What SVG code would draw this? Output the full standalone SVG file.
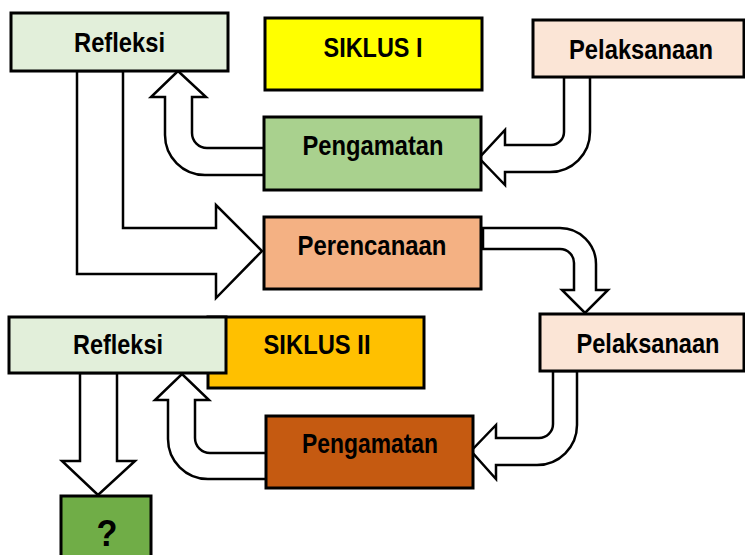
<svg xmlns="http://www.w3.org/2000/svg" width="745" height="555" viewBox="0 0 745 555">
<style>
.box{stroke:#000;stroke-width:3}
.arr{fill:#fff;stroke:#000;stroke-width:2.5;stroke-linejoin:miter}
text{font-family:"Liberation Sans",Arial,sans-serif;font-weight:bold;font-size:28px;fill:#000;text-anchor:middle}
</style>
<rect width="745" height="555" fill="#fff"/>
<g id="connectors">
<path class="arr" d="M264,175 L205,175 A40,40 0 0 1 165,135 L165,97 L151,97 L178,71 L206,97 L192,97 L192,133 A15,15 0 0 0 207,148 L264,148 Z"/>
<path class="arr" d="M564,77 L564,132 A13,13 0 0 1 551,145 L505,145 L505,130 L479,158 L505,185 L505,172 L550,172 A40,40 0 0 0 590,132 L590,77 Z"/>
<path class="arr" d="M77,71 L77,274 L216,274 L216,298 L262,251 L216,205 L216,228 L123,228 L123,71 Z"/>
<path class="arr" d="M483,228 L560,228 A36,36 0 0 1 596,264 L596,290 L608,290 L585,313 L562,290 L574,290 L574,263 A14,14 0 0 0 560,249 L483,249 Z"/>
<path class="arr" d="M553,371 L553,424 A14,14 0 0 1 539,438 L496,438 L496,425 L471,451 L496,479 L496,465 L537,465 A40,40 0 0 0 577,425 L577,371 Z"/>
<path class="arr" d="M267,479 L208,479 A40,40 0 0 1 168,439 L168,400 L155,400 L182,374 L209,400 L195,400 L195,438 A15,15 0 0 0 210,453 L267,453 Z"/>
<path class="arr" d="M80,373 L80,461 L62,461 L98,495 L135,461 L117,461 L117,373 Z"/>
</g>
<g id="refleksi1"><rect class="box" x="11" y="13" width="217" height="58" fill="#E2EFDA"/><text x="119.5" y="52" textLength="91" lengthAdjust="spacingAndGlyphs">Refleksi</text></g>
<g id="siklus1"><rect class="box" x="265" y="18" width="217" height="72" fill="#FFFF00"/><text x="373" y="57" textLength="99" lengthAdjust="spacingAndGlyphs">SIKLUS I</text></g>
<g id="pelaksanaan1"><rect class="box" x="533" y="20" width="211" height="57" fill="#FBE5D6"/><text x="641" y="59" textLength="144" lengthAdjust="spacingAndGlyphs">Pelaksanaan</text></g>
<g id="pengamatan1"><rect class="box" x="264" y="117" width="217" height="73" fill="#A9D18E"/><text x="373" y="155" textLength="141" lengthAdjust="spacingAndGlyphs">Pengamatan</text></g>
<g id="perencanaan"><rect class="box" x="264" y="217" width="217" height="72" fill="#F4B183"/><text x="372" y="255" textLength="149" lengthAdjust="spacingAndGlyphs">Perencanaan</text></g>
<g id="pelaksanaan2"><rect class="box" x="540" y="314" width="204" height="57" fill="#FBE5D6"/><text x="648" y="353" textLength="143" lengthAdjust="spacingAndGlyphs">Pelaksanaan</text></g>
<g id="siklus2"><rect class="box" x="208" y="317" width="216" height="71" fill="#FFC000"/><text x="317" y="354" textLength="107" lengthAdjust="spacingAndGlyphs">SIKLUS II</text></g>
<g id="refleksi2"><rect class="box" x="9" y="317" width="217" height="56" fill="#E2EFDA"/><text x="118" y="354" textLength="90" lengthAdjust="spacingAndGlyphs">Refleksi</text></g>
<g id="pengamatan2"><rect class="box" x="266" y="416" width="207" height="72" fill="#C55A11"/><text x="370" y="453" textLength="136" lengthAdjust="spacingAndGlyphs">Pengamatan</text></g>
<g id="question"><rect class="box" x="61" y="496" width="90" height="62" fill="#70AD47"/><text x="107" y="546" textLength="21" lengthAdjust="spacingAndGlyphs" style="font-size:37px">?</text></g>
</svg>
